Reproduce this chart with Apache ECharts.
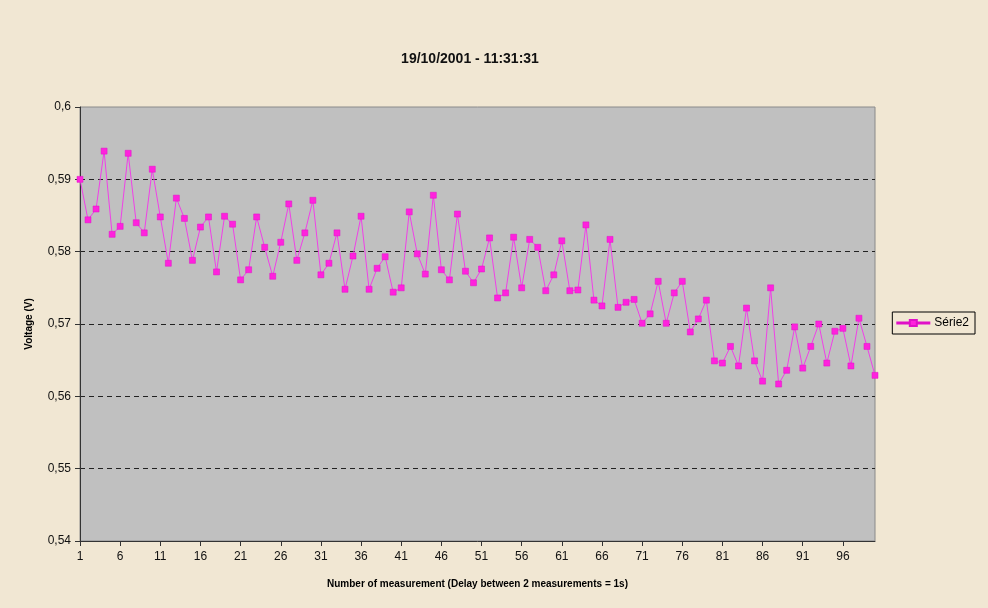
<!DOCTYPE html>
<html><head><meta charset="utf-8">
<script src="https://cdn.jsdelivr.net/npm/echarts@6/dist/echarts.min.js"></script>
<style>html,body{margin:0;padding:0;background:#F1E7D3;}#c{width:988px;height:608px;}</style>
</head><body><div id="c"></div>
<script>
const titleText = '19/10/2001 - 11:31:31';
const seriesName = 'Série2';
const xAxisName = 'Number of measurement (Delay between 2 measurements = 1s)';
const yAxisName = 'Voltage (V)';
const categories = [];
for (let i = 1; i <= 100; i++) categories.push(String(i));
const voltage = [
 0.5900,0.5844,0.5859,0.5939,0.5824,0.5835,0.5936,0.5840,0.5826,0.5914,
 0.5848,0.5784,0.5874,0.5846,0.5788,0.5834,0.5848,0.5772,0.5849,0.5838,
 0.5761,0.5775,0.5848,0.5806,0.5766,0.5813,0.5866,0.5788,0.5826,0.5871,
 0.5768,0.5784,0.5826,0.5748,0.5794,0.5849,0.5748,0.5777,0.5793,0.5744,
 0.5750,0.5855,0.5797,0.5769,0.5878,0.5775,0.5761,0.5852,0.5773,0.5757,
 0.5776,0.5819,0.5736,0.5743,0.5820,0.5750,0.5817,0.5806,0.5746,0.5768,
 0.5815,0.5746,0.5747,0.5837,0.5733,0.5725,0.5817,0.5723,0.5730,0.5734,
 0.5701,0.5714,0.5759,0.5701,0.5743,0.5759,0.5689,0.5707,0.5733,0.5649,
 0.5646,0.5669,0.5642,0.5722,0.5649,0.5621,0.5750,0.5617,0.5636,0.5696,
 0.5639,0.5669,0.5700,0.5646,0.5690,0.5694,0.5642,0.5708,0.5669,0.5629
];
const yMin = 0.54, yMax = 0.6, yStep = 0.01;

const chart = echarts.init(document.getElementById('c'), null, {renderer:'canvas'});
const font = 'Liberation Sans, Arial, sans-serif';
chart.setOption({
  backgroundColor: '#F1E7D3',
  animation: false,
  title: {
    text: titleText, left: 465, top: 47, textAlign: 'center',
    textStyle: {fontFamily: font, fontSize: 14, fontWeight: 'bold', color: '#111'}
  },
  legend: {
    data: [seriesName], right: 13, top: 312, orient: 'vertical',
    borderColor: '#000', borderWidth: 1, padding: [5, 6, 5, 4],
    itemWidth: 32, itemHeight: 8, itemGap: 4,
    textStyle: {fontFamily: font, fontSize: 12, color: '#000'},
    icon: 'path://M0,3.6L12.5,3.6L12.5,1L19.5,1L19.5,3.6L32,3.6L32,4.4L19.5,4.4L19.5,7L12.5,7L12.5,4.4L0,4.4Z'
  },
  grid: {left: 80, right: 113, top: 107, bottom: 67, show: true, backgroundColor: '#C0C0C0', borderWidth: 1, borderColor: '#8a8a8a'},
  xAxis: {
    type: 'category', data: categories, boundaryGap: false,
    name: xAxisName, nameLocation: 'middle', nameGap: 38,
    nameTextStyle: {fontFamily: font, fontSize: 10, fontWeight: 'bold', color: '#000'},
    axisLine: {lineStyle: {color: '#333', width: 1}},
    axisTick: {interval: 4, length: 5, lineStyle: {color: '#333'}},
    axisLabel: {interval: 4, fontFamily: font, fontSize: 12, color: '#111', margin: 10},
    splitLine: {show: false}
  },
  yAxis: {
    type: 'value', min: yMin, max: yMax, interval: yStep,
    name: yAxisName, nameLocation: 'middle', nameGap: 46, nameRotate: 90,
    nameTextStyle: {fontFamily: font, fontSize: 10, fontWeight: 'bold', color: '#000'},
    axisLine: {show: true, lineStyle: {color: '#333', width: 1}},
    axisTick: {show: true, length: 5, lineStyle: {color: '#333'}},
    axisLabel: {fontFamily: font, fontSize: 12, color: '#111', margin: 9,
      formatter: v => String(Math.round(v * 100) / 100).replace('.', ',')},
    splitLine: {show: true, showMinLine: false, showMaxLine: false, lineStyle: {color: '#222', type: [5, 4], width: 1}}
  },
  series: [{
    name: seriesName, type: 'line', data: voltage,
    symbol: 'rect', symbolSize: 6, showSymbol: true, showAllSymbol: true,
    lineStyle: {color: '#F040E8', width: 1},
    itemStyle: {color: '#FF22DD', borderColor: '#E010C8', borderWidth: 0.5}
  }]
});
</script></body></html>
